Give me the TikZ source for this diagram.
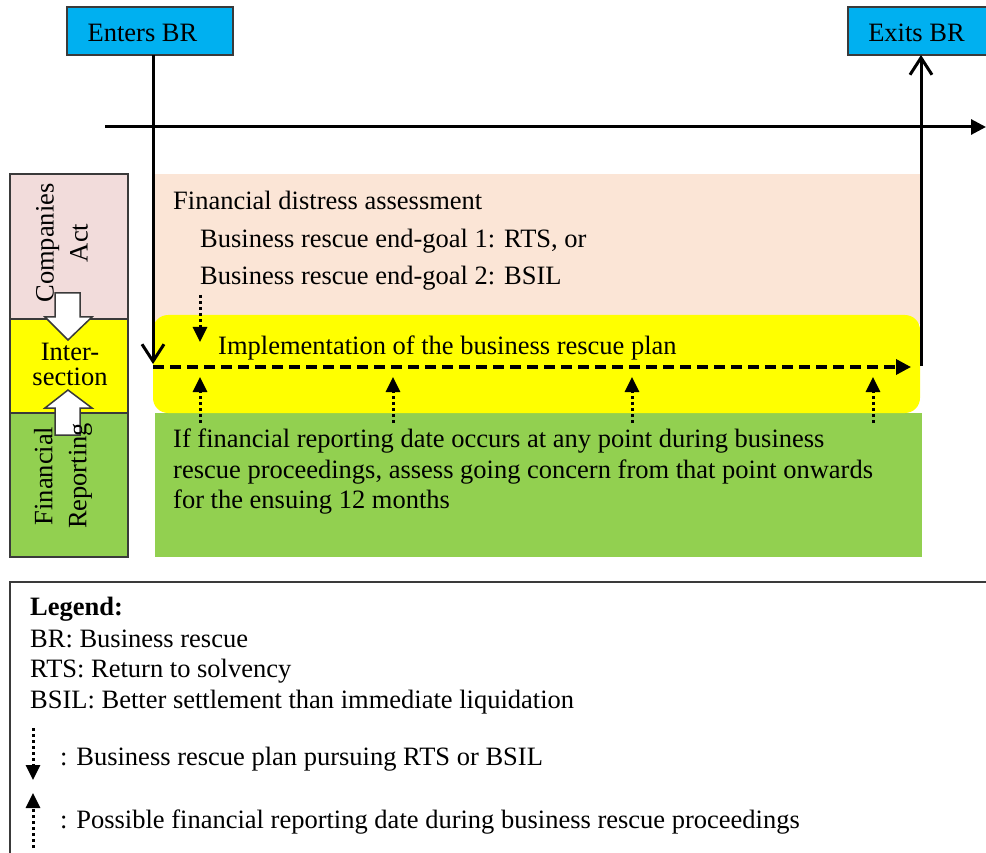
\documentclass[tikz,border=0pt]{standalone}
\usepackage{fontspec}
\setmainfont{Liberation Serif}
\usetikzlibrary{arrows.meta}
\definecolor{cyanbox}{HTML}{00B0F0}
\definecolor{pinkbg}{HTML}{FBE5D6}
\definecolor{pinkleft}{HTML}{F2DCDB}
\definecolor{yel}{HTML}{FFFF00}
\definecolor{grn}{HTML}{92D050}
\definecolor{edgec}{HTML}{3A3A3A}
\newcommand{\fsmain}{\fontsize{26.5}{30}\selectfont}
\newcommand{\fsvert}{\fontsize{26.5}{34}\selectfont}
\newcommand{\fsinter}{\fontsize{26.5}{25}\selectfont}
\tikzset{
  txt/.style={inner sep=0pt, font=\fsmain, text=black},
  tl/.style={txt, anchor=base west},
  region/.style={inner sep=0pt, outer sep=0pt, anchor=north west},
  sidebox/.style={draw=edgec, line width=1.5pt, inner sep=0pt, outer sep=0pt, anchor=north west, minimum width=118pt},
  cbox/.style={draw=edgec, line width=1.5pt, fill=cyanbox, inner sep=0pt, outer sep=0pt, anchor=north west, minimum height=48pt},
  mainline/.style={line width=3pt, draw=black},
  openhead/.style={-{Straight Barb[length=17pt,width=22pt,line width=3pt]}},
  solidhead/.style={-{Triangle[length=15pt,width=15pt]}},
  dotline/.style={line width=3pt, dash pattern=on 3pt off 3pt, -{Triangle[length=15pt,width=14pt]}},
  dashline/.style={line width=3.5pt, dash pattern=on 11pt off 6pt, -{Triangle[length=15pt,width=15pt]}},
  blockarrow/.style={draw=edgec, fill=white, line width=1.5pt, line join=miter},
}
\begin{document}
\begin{tikzpicture}[x=1pt,y=-1pt]
\useasboundingbox (0,0) rectangle (986,853);

% background regions
\node[region, fill=pinkbg, minimum width=766pt, minimum height=150pt] (pinkr) at (155,174) {};
\node[region, fill=grn, minimum width=767pt, minimum height=144pt] (greenr) at (155,413) {};
\node[region, fill=yel, rounded corners=15pt, minimum width=767pt, minimum height=98pt] (yellowr) at (153,315) {};

% left side boxes
\node[sidebox, fill=pinkleft, minimum height=145pt] (compbox) at (10,174) {};
\node[sidebox, fill=yel, minimum height=94pt] (interbox) at (10,319) {};
\node[sidebox, fill=grn, minimum height=144pt] (finbox) at (10,413) {};

% white block arrows
\draw[blockarrow] (55,293) -- (80,293) -- (80,317) -- (92,317) -- (68,340) -- (45,317) -- (55,317) -- cycle;
\draw[blockarrow] (55,435) -- (80,435) -- (80,408) -- (92,408) -- (68,390) -- (45,408) -- (55,408) -- cycle;

\node[txt, rotate=90, align=center, font=\fsvert] (complbl) at (62,243) {Companies\\Act};
\node[txt, align=center, font=\fsinter] (interlbl) at (70,364) {Inter-\\section};
\node[txt, rotate=90, align=center, font=\fsvert] (finlbl) at (63,476) {Financial\\Reporting};

% top boxes
\node[cbox, minimum width=166pt] (enters) at (67,7) {};
\node[txt, anchor=base] (enterslbl) at (142.5,42) {Enters BR};
\node[cbox, minimum width=142pt] (exits) at (848,7) {};
\node[txt, anchor=base] (exitslbl) at (916.5,42) {Exits BR};

% timeline
\coordinate (t0) at (105,127);
\coordinate (t1) at (986,127);
\draw[mainline, solidhead] (t0) -- (t1);

% enter and exit lines
\coordinate (ein) at (153,364);
\draw[mainline, openhead] (enters.south -| ein) -- (ein);
\coordinate (xout) at (921,366);
\draw[mainline, openhead] (xout) -- (xout |- exits.south);

% dashed implementation line
\coordinate (d0) at (153,367);
\coordinate (d1) at (911,367);
\draw[dashline] (d0) -- (d1);

% dotted arrows
\coordinate (pa0) at (200,295);
\coordinate (pa1) at (200,342);
\draw[dotline] (pa0) -- (pa1);
\foreach \xx/\nm in {200/a,393/b,632/c,873/d}{
  \coordinate (u0\nm) at (\xx,423);
  \coordinate (u1\nm) at (\xx,377);
  \draw[dotline] (u0\nm) -- (u1\nm);
}

% texts
\node[tl] (fda) at (173,210) {Financial distress assessment};
\node[tl] (eg1) at (200,248) {Business rescue end-goal 1: RTS, or};
\node[tl] (eg2) at (200,285) {Business rescue end-goal 2: BSIL};
\node[tl] (impl) at (218,355) {Implementation of the business rescue plan};
\node[tl] (g1) at (173,447) {If financial reporting date occurs at any point during business};
\node[tl] (g2) at (173,478) {rescue proceedings, assess going concern from that point onwards};
\node[tl] (g3) at (173,508) {for the ensuing 12 months};

% legend
\draw[draw=edgec, line width=1.5pt] (10,860) |- (992,582);
\node[tl] (lg0) at (30,615) {\textbf{Legend:}};
\node[tl] (lg1) at (30,647) {BR: Business rescue};
\node[tl] (lg2) at (30,677) {RTS: Return to solvency};
\node[tl] (lg3) at (30,708) {BSIL: Better settlement than immediate liquidation};
\coordinate (la0) at (33,728);
\coordinate (la1) at (33,780);
\draw[dotline] (la0) -- (la1);
\node[tl] (lg4) at (60,765) {: Business rescue plan pursuing RTS or BSIL};
\coordinate (lb0) at (33,848);
\coordinate (lb1) at (33,793);
\draw[dotline] (lb0) -- (lb1);
\node[tl] (lg5) at (60,828) {: Possible financial reporting date during business rescue proceedings};
\end{tikzpicture}
\end{document}
